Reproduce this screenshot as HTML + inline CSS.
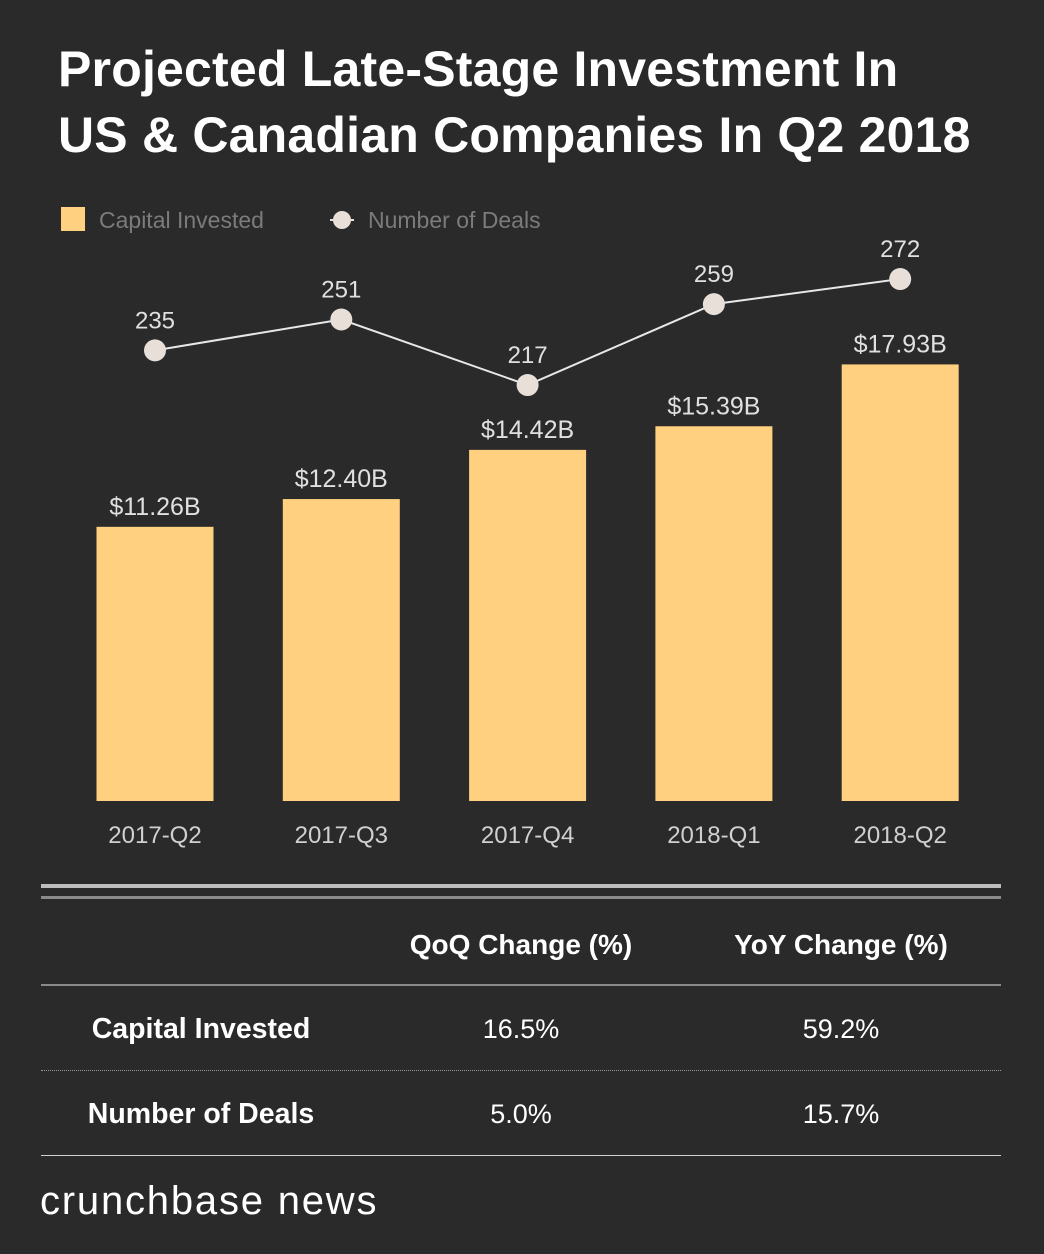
<!DOCTYPE html>
<html><head><meta charset="utf-8"><style>
body{margin:0;background:#2a2a2a;width:1044px;height:1254px;overflow:hidden;font-family:"Liberation Sans",sans-serif;position:relative}
.t{position:absolute;white-space:nowrap}
h1{position:absolute;left:58px;top:36px;margin:0;color:#fff;font-size:50px;line-height:66px;font-weight:bold;letter-spacing:0.2px;white-space:nowrap}
.hl{position:absolute;left:41px;width:960px}
.cell{position:absolute;color:#fff;font-size:27px;transform:translateX(-50%);white-space:nowrap}
.lab{font-size:28.5px;font-weight:bold}
</style></head><body>
<h1>Projected Late-Stage Investment In<br>US &amp; Canadian Companies In Q2 2018</h1>
<svg id="chart" width="1044" height="870" style="position:absolute;left:0;top:0" font-family="Liberation Sans, sans-serif">
 <g>
  <rect x="61" y="207" width="24" height="24" fill="#ffd07f"/>
  <text x="99" y="228" fill="#7b7b7b" font-size="23">Capital Invested</text>
  <line x1="330" y1="220" x2="354" y2="220" stroke="#e8dfd9" stroke-width="2"/>
  <circle cx="342" cy="220" r="9" fill="#e8dfd9"/>
  <text x="368" y="228" fill="#7b7b7b" font-size="23">Number of Deals</text>
 </g>
 <g id="bars"></g><g id="line"></g>
</svg>
<div class="hl" style="top:884px;height:4px;background:#bdbdbd"></div>
<div class="hl" style="top:896px;height:3px;background:#8a8a8a"></div>
<div class="cell" style="left:521px;top:929px;font-weight:bold;font-size:28px">QoQ Change (%)</div>
<div class="cell" style="left:841px;top:929px;font-weight:bold;font-size:28px">YoY Change (%)</div>
<div class="hl" style="top:984px;height:2px;background:#8a8a8a"></div>
<div class="cell lab" style="left:201px;top:1013px">Capital Invested</div>
<div class="cell" style="left:521px;top:1014px">16.5%</div>
<div class="cell" style="left:841px;top:1014px">59.2%</div>
<div class="hl" style="top:1070px;border-top:1px dotted #9a9a9a"></div>
<div class="cell lab" style="left:201px;top:1098px">Number of Deals</div>
<div class="cell" style="left:521px;top:1099px">5.0%</div>
<div class="cell" style="left:841px;top:1099px">15.7%</div>
<div class="hl" style="top:1155px;height:1px;background:#cfcfcf"></div>
<div class="t" style="left:40px;top:1179px;color:#fff;font-size:40px;letter-spacing:1.8px">crunchbase news</div>
<script>
const categories=["2017-Q2","2017-Q3","2017-Q4","2018-Q1","2018-Q2"];
const capital=[11.26,12.40,14.42,15.39,17.93];
const capitalLabels=["$11.26B","$12.40B","$14.42B","$15.39B","$17.93B"];
const deals=[235,251,217,259,272];
const NS="http://www.w3.org/2000/svg";
const x=i=>155+i*186.3;
const yBar=v=>801-v*24.35;
const yDeal=v=>803.2-v*1.927;
function mk(t,a,p){const e=document.createElementNS(NS,t);for(const k in a)e.setAttribute(k,a[k]);p.appendChild(e);return e;}
const bars=document.getElementById('bars'),line=document.getElementById('line');
categories.forEach((c,i)=>{
 const r=mk('rect',{x:x(i)-58.5,y:yBar(capital[i]),width:117,height:801-yBar(capital[i]),fill:'#ffd07f'},bars);
 
 
 const l=mk('text',{x:x(i),y:yBar(capital[i])-12,'text-anchor':'middle',fill:'#e0e0e0','font-size':'25'},bars);l.textContent=capitalLabels[i];
 
 
 const xl=mk('text',{x:x(i),y:843,'text-anchor':'middle',fill:'#d0d0d0','font-size':'24'},bars);xl.textContent=c;
 
 
});
const pl=mk('polyline',{points:deals.map((d,i)=>x(i)+','+yDeal(d)).join(' '),fill:'none',stroke:'#e8e8e8','stroke-width':'2'},line);


deals.forEach((d,i)=>{
 const c=mk('circle',{cx:x(i),cy:yDeal(d),r:11,fill:'#e8dfd9'},line);
 
 
 const t=mk('text',{x:x(i),y:yDeal(d)-22,'text-anchor':'middle',fill:'#e0e0e0','font-size':'24'},line);t.textContent=d;
 
 
});
</script>
</body></html>
